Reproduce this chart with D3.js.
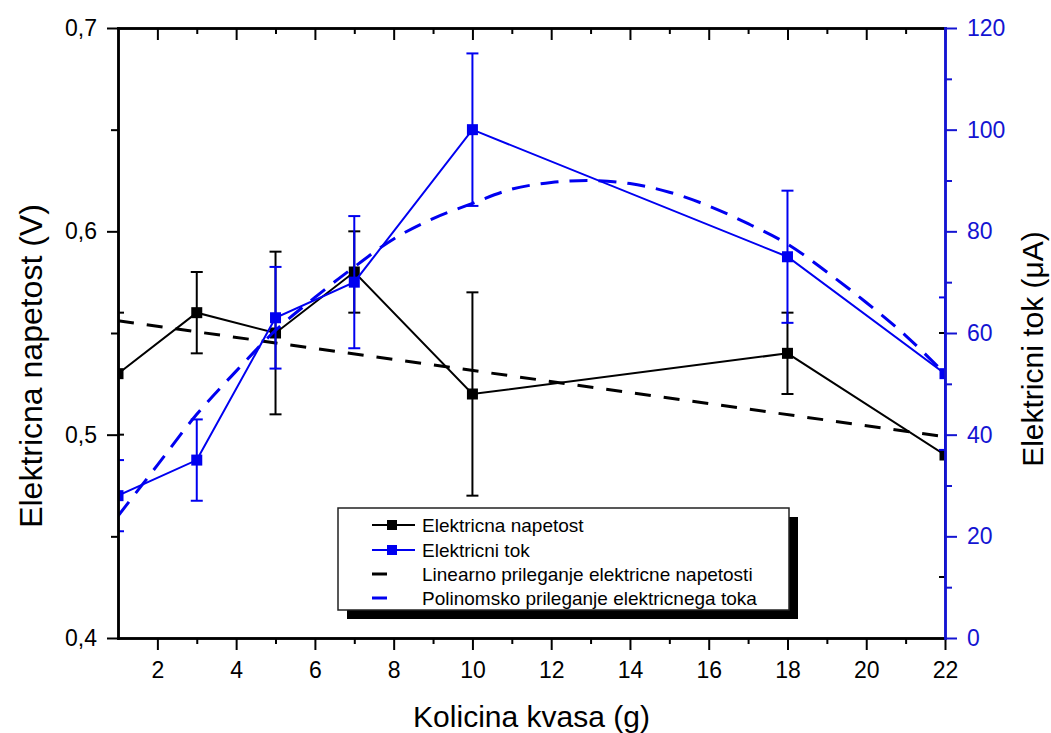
<!DOCTYPE html>
<html>
  <head>
    <title>Elektricna napetost in tok</title>
    <script src="https://cdn.jsdelivr.net/npm/d3@7"></script>
    <style>
      body { margin: 0; background: #fff; }
      svg { font-family: "Liberation Sans", Arial, sans-serif; }
      .axis path { fill: none; stroke-width: 2.5px; stroke-linecap: square; }
      .axis line { stroke-width: 2px; }
      .axis text { font-size: 23px; }
      .axis-title { font-size: 30px; fill: #000; text-anchor: middle; }
      .legend text { font-size: 19px; fill: #000; }
    </style>
  </head>
  <body>
    <svg width="1051" height="733"></svg>
    <script>
      const amounts = [1, 3, 5, 7, 10, 18, 22];
      const voltage = [0.53, 0.56, 0.55, 0.58, 0.52, 0.54, 0.49];
      const voltageErr = [0.03, 0.02, 0.04, 0.02, 0.05, 0.02, 0.06];
      const current = [28, 35, 63, 70, 100, 75, 52];
      const currentErr = [7, 8, 10, 13, 15, 13, 15];

      // fit curves
      const linFitX = [1, 22];
      const linFitV = [0.556, 0.499];
      const polyFitX = [1, 2, 3, 4, 5, 6, 7, 8, 9, 10, 11, 12, 13, 14, 15, 16, 17, 18, 19, 20, 21, 22];
      const polyFitI = [24, 34, 44, 52.5, 60.5, 67, 73, 78.5, 82.5, 85.5, 88.3, 89.6, 90, 89.4, 87.7, 85, 81.5, 77.5, 72, 66, 59.5, 52];

      // ticks
      const xMajorTicks = [2, 4, 6, 8, 10, 12, 14, 16, 18, 20, 22];
      const xMinorTicks = [3, 5, 7, 9, 11, 13, 15, 17, 19, 21];
      const voltageTicks = [0.4, 0.5, 0.6, 0.7];
      const voltageMinor = [0.45, 0.55, 0.65];
      const currentTicks = [0, 20, 40, 60, 80, 100, 120];
      const currentMinor = [10, 30, 50, 70, 90, 110];

      const legendLabels = [
        "Elektricna napetost",
        "Elektricni tok",
        "Linearno prileganje elektricne napetosti",
        "Polinomsko prileganje elektricnega toka"
      ];

      const black = "#000";
      const blue = "#0000f0";
      const axisBlue = "#1414d2";

      const margin = {top: 28, right: 106, bottom: 95, left: 118},
          width = 1051 - margin.left - margin.right,
          height = 733 - margin.top - margin.bottom;

      const svg = d3.select("svg")
          .append("g")
          .attr("transform", `translate(${margin.left},${margin.top})`);

      const x = d3.scaleLinear().domain([1, 22]).range([0, width]);
      const yV = d3.scaleLinear().domain([0.4, 0.7]).range([height, 0]);
      const yI = d3.scaleLinear().domain([0, 120]).range([height, 0]);

      svg.append("clipPath")
          .attr("id", "plot-clip")
          .append("rect")
          .attr("width", width)
          .attr("height", height);

      const plot = svg.append("g").attr("clip-path", "url(#plot-clip)");

      function drawSeries(vals, errs, yScale, color) {
        const g = plot.append("g");
        const pts = amounts.map((a, i) => ({a: a, v: vals[i], e: errs[i]}));

        // error bars
        const eb = g.selectAll(".err").data(pts).enter().append("g");
        eb.append("line")
            .attr("x1", d => x(d.a)).attr("x2", d => x(d.a))
            .attr("y1", d => yScale(d.v - d.e)).attr("y2", d => yScale(d.v + d.e))
            .attr("stroke", color).attr("stroke-width", 2);
        eb.append("line")
            .attr("x1", d => x(d.a) - 6).attr("x2", d => x(d.a) + 6)
            .attr("y1", d => yScale(d.v + d.e)).attr("y2", d => yScale(d.v + d.e))
            .attr("stroke", color).attr("stroke-width", 2);
        eb.append("line")
            .attr("x1", d => x(d.a) - 6).attr("x2", d => x(d.a) + 6)
            .attr("y1", d => yScale(d.v - d.e)).attr("y2", d => yScale(d.v - d.e))
            .attr("stroke", color).attr("stroke-width", 2);

        // connecting line
        g.append("path")
            .datum(pts)
            .attr("d", d3.line().x(d => x(d.a)).y(d => yScale(d.v)))
            .attr("fill", "none")
            .attr("stroke", color)
            .attr("stroke-width", 2);

        return {g: g, pts: pts};
      }

      function drawSquares(s, yScale, color) {
        s.g.selectAll(".sq").data(s.pts).enter().append("rect")
            .attr("x", d => x(d.a) - 5.5)
            .attr("y", d => yScale(d.v) - 5.5)
            .attr("width", 11)
            .attr("height", 11)
            .attr("fill", color);
      }

      // voltage layer
      const sV = drawSeries(voltage, voltageErr, yV, black);
      plot.append("path")
          .datum(linFitX.map((a, i) => [a, linFitV[i]]))
          .attr("d", d3.line().x(d => x(d[0])).y(d => yV(d[1])))
          .attr("fill", "none")
          .attr("stroke", black)
          .attr("stroke-width", 3)
          .attr("stroke-dasharray", "16,13");
      drawSquares(sV, yV, black);

      // current layer
      const sI = drawSeries(current, currentErr, yI, blue);
      plot.append("path")
          .datum(polyFitX.map((a, i) => [a, polyFitI[i]]))
          .attr("d", d3.line().x(d => x(d[0])).y(d => yI(d[1])).curve(d3.curveCatmullRom))
          .attr("fill", "none")
          .attr("stroke", blue)
          .attr("stroke-width", 3)
          .attr("stroke-dasharray", "18,11");
      drawSquares(sI, yI, blue);

      // axes
      function styleAxis(g, color) {
        g.attr("font-family", null).attr("font-size", null).attr("color", color);
      }
      const fmtV = d => d3.format(".1f")(d).replace(".", ",");

      svg.append("g").attr("class", "axis")
          .attr("transform", `translate(0,${height})`)
          .call(d3.axisBottom(x).tickValues(xMajorTicks).tickSize(12).tickPadding(12).tickSizeOuter(0))
          .call(g => styleAxis(g, black));
      svg.append("g").attr("class", "axis")
          .attr("transform", `translate(0,${height})`)
          .call(d3.axisBottom(x).tickValues(xMinorTicks).tickSize(6).tickFormat("").tickSizeOuter(0))
          .call(g => styleAxis(g, black));

      svg.append("g").attr("class", "axis")
          .call(d3.axisTop(x).tickValues(xMajorTicks).tickSize(-12).tickFormat("").tickSizeOuter(0))
          .call(g => styleAxis(g, black));
      svg.append("g").attr("class", "axis")
          .call(d3.axisTop(x).tickValues(xMinorTicks).tickSize(-6).tickFormat("").tickSizeOuter(0))
          .call(g => styleAxis(g, black));

      svg.append("g").attr("class", "axis")
          .call(d3.axisLeft(yV).tickValues(voltageTicks).tickSize(11).tickPadding(10).tickSizeOuter(0).tickFormat(fmtV))
          .call(g => styleAxis(g, black));
      svg.append("g").attr("class", "axis")
          .call(d3.axisLeft(yV).tickValues(voltageMinor).tickSize(7).tickFormat("").tickSizeOuter(0))
          .call(g => styleAxis(g, black));

      svg.append("g").attr("class", "axis")
          .attr("transform", `translate(${width},0)`)
          .call(d3.axisRight(yI).tickValues(currentTicks).tickSize(12).tickPadding(10).tickSizeOuter(0))
          .call(g => styleAxis(g, axisBlue));
      svg.append("g").attr("class", "axis")
          .attr("transform", `translate(${width},0)`)
          .call(d3.axisRight(yI).tickValues(currentMinor).tickSize(7).tickFormat("").tickSizeOuter(0))
          .call(g => styleAxis(g, axisBlue));

      // axis titles
      svg.append("text")
          .attr("class", "axis-title")
          .attr("x", width / 2)
          .attr("y", 727 - margin.top)
          .text("Kolicina kvasa (g)");

      svg.append("text")
          .attr("class", "axis-title")
          .attr("transform", `translate(${42 - margin.left},${366 - margin.top}) rotate(-90)`)
          .style("font-size", "32px")
          .text("Elektricna napetost (V)");

      svg.append("text")
          .attr("class", "axis-title")
          .attr("transform", `translate(${1043 - margin.left},${349 - margin.top}) rotate(-90)`)
          .text("Elektricni tok (\u03bcA)");

      // legend
      const legend = svg.append("g")
          .attr("class", "legend")
          .attr("transform", `translate(${338 - margin.left},${508 - margin.top})`);

      legend.append("rect")
          .attr("x", 9).attr("y", 9)
          .attr("width", 451).attr("height", 102)
          .attr("fill", "#000");
      legend.append("rect")
          .attr("width", 451).attr("height", 102)
          .attr("fill", "#fff")
          .attr("stroke", "#222")
          .attr("stroke-width", 1.5);

      const legendColors = [black, blue, black, blue];
      const rowY = [17, 42, 66, 90];

      legendLabels.forEach((label, i) => {
        const row = legend.append("g").attr("transform", `translate(0,${rowY[i]})`);
        const ln = row.append("line")
            .attr("x1", 34).attr("x2", 77)
            .attr("stroke", legendColors[i]);
        if (i < 2) {
          ln.attr("stroke-width", 2);
          row.append("rect")
              .attr("x", 49).attr("y", -5)
              .attr("width", 10).attr("height", 10)
              .attr("fill", legendColors[i]);
        } else {
          ln.attr("stroke-width", 3).attr("stroke-dasharray", "15,40");
        }
        row.append("text")
            .attr("x", 84)
            .attr("dy", "0.35em")
            .text(label);
      });
    </script>
  </body>
</html>
